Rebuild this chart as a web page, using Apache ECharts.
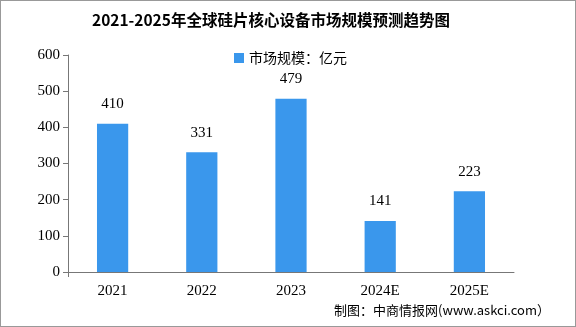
<!DOCTYPE html>
<html><head><meta charset="utf-8">
<script src="https://cdn.jsdelivr.net/npm/echarts@6/dist/echarts.min.js"></script>
<style>html,body{margin:0;padding:0;background:#fff}#c{width:576px;height:327px;box-sizing:border-box;border:1px solid #999}</style>
</head><body><div id="c"></div>
<script>
const categories = ['2021','2022','2023','2024E','2025E'];
const marketSize = [410,331,479,141,223];
const seriesName = '市场规模：亿元';
const titleText = '2021-2025年全球硅片核心设备市场规模预测趋势图';
const sourceText = '制图：中商情报网(www.askci.com）';

const chart = echarts.init(document.getElementById('c'));
chart.setOption({
  animation:false,
  title:{text:titleText,left:86,top:6,textStyle:{fontFamily:'Noto Sans CJK SC',fontSize:15.5,fontWeight:'bold',color:'#000'}},
  legend:{data:[seriesName],top:45,left:228,itemWidth:10,itemHeight:10,itemGap:6,icon:'rect',textStyle:{fontFamily:'Noto Sans CJK SC',fontSize:14,color:'#000'}},
  graphic:[{type:'text',right:25,top:303,style:{text:sourceText,font:'13px "Noto Sans CJK SC"',fill:'#000'}}],
  grid:{left:67,right:61,top:54,bottom:54},
  xAxis:{type:'category',data:categories,
    axisLine:{show:true,onZero:false,lineStyle:{color:'#777',width:1}},
    axisTick:{alignWithLabel:false,length:6,lineStyle:{color:'#777'}},
    axisLabel:{color:'#000',fontFamily:'Liberation Serif',fontSize:15,margin:12}},
  yAxis:{type:'value',min:0,max:600,interval:100,
    axisLine:{show:true,onZero:false,lineStyle:{color:'#777',width:1}},
    axisTick:{show:true,length:5,lineStyle:{color:'#777'}},
    splitLine:{show:false},
    axisLabel:{color:'#000',fontFamily:'Liberation Serif',fontSize:15,margin:8}},
  series:[{name:seriesName,type:'bar',data:marketSize,barWidth:'35%',
    itemStyle:{color:'#3a97ec'},
    label:{show:true,position:'top',distance:12,color:'#000',fontFamily:'Liberation Serif',fontSize:15}}]
});
// ensure the vertical value-axis line is drawn, positioned from the grid
const rect = chart.getModel().getComponent('grid').coordinateSystem.getRect();
chart.setOption({graphic:[{type:'text',right:25,top:303,style:{text:sourceText,font:'13px "Noto Sans CJK SC"',fill:'#000'}},
  {type:'line',z:10,shape:{x1:Math.round(rect.x)+0.5,y1:rect.y,x2:Math.round(rect.x)+0.5,y2:rect.y+rect.height+5},style:{stroke:'#777',lineWidth:1}}]});
</script></body></html>
